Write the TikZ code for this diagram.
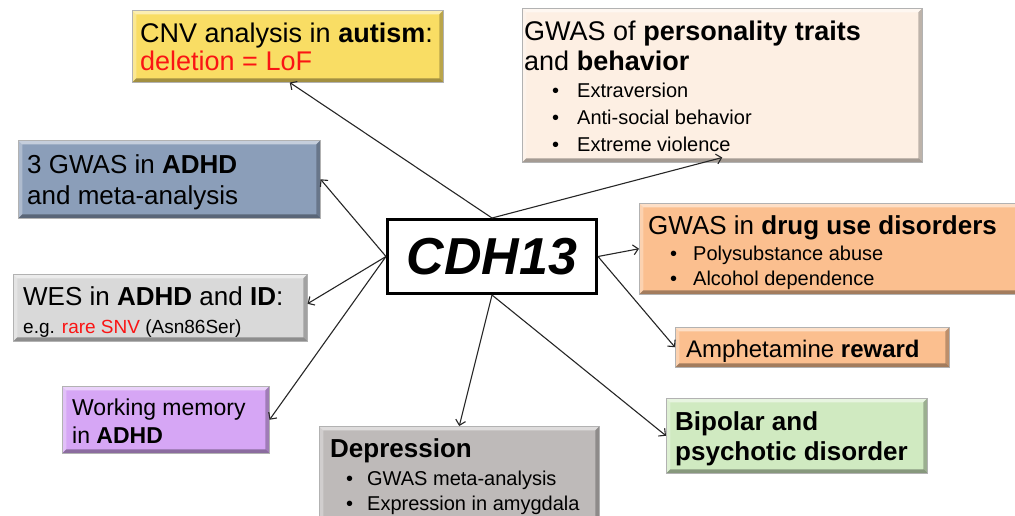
\documentclass[tikz,border=0pt]{standalone}
\usepackage{fontspec}
\setmainfont{Liberation Sans}
\usetikzlibrary{arrows.meta}
\definecolor{cnvY}{RGB}{249,221,100}
\definecolor{persP}{RGB}{253,239,227}
\definecolor{adhdB}{RGB}{139,158,185}
\definecolor{wesG}{RGB}{217,217,217}
\definecolor{wmP}{RGB}{214,166,245}
\definecolor{drugO}{RGB}{251,191,143}
\definecolor{bipG}{RGB}{208,234,193}
\definecolor{depG}{RGB}{190,186,185}
\definecolor{txtred}{RGB}{250,20,20}
\begin{document}
\begin{tikzpicture}[x=1pt,y=-1pt,
  bevel/.style={path picture={
    \fill[white,opacity=.5] (path picture bounding box.north west) -- (path picture bounding box.north east)
      -- ([shift={(-4pt,-4pt)}]path picture bounding box.north east) -- ([shift={(4pt,-4pt)}]path picture bounding box.north west) -- cycle;
    \fill[white,opacity=.3] (path picture bounding box.north west) -- ([shift={(4pt,-4pt)}]path picture bounding box.north west)
      -- ([shift={(4pt,4pt)}]path picture bounding box.south west) -- (path picture bounding box.south west) -- cycle;
    \fill[black,opacity=.25] (path picture bounding box.north east) -- (path picture bounding box.south east)
      -- ([shift={(-4pt,4pt)}]path picture bounding box.south east) -- ([shift={(-4pt,-4pt)}]path picture bounding box.north east) -- cycle;
    \fill[black,opacity=.35] (path picture bounding box.south west) -- ([shift={(4pt,4pt)}]path picture bounding box.south west)
      -- ([shift={(-4pt,4pt)}]path picture bounding box.south east) -- (path picture bounding box.south east) -- cycle;
  }},
  box/.style={draw=black!30,line width=0.5pt,inner sep=0pt,anchor=north west,bevel},
  txt/.style={anchor=base west,inner sep=0pt,font=\fontsize{26}{30}\selectfont},
  big/.style={font=\fontsize{27}{31}\selectfont},
  sm/.style={font=\fontsize{20}{24}\selectfont},
  arr/.style={-{Straight Barb[length=5pt,width=10pt]},line width=1.1pt,black!85},
]
\useasboundingbox (0,0) rectangle (1015,515);

% boxes
\node[box,fill=cnvY,minimum width=311pt,minimum height=72pt] (cnv) at (132,10) {};
\node[box,fill=persP,minimum width=400pt,minimum height=154pt] (pers) at (522,8) {};
\node[box,fill=adhdB,minimum width=302pt,minimum height=78pt] (adhd) at (18,140) {};
\node[box,fill=wesG,minimum width=294pt,minimum height=67pt] (wes) at (13,274) {};
\node[box,fill=wmP,minimum width=207pt,minimum height=67pt] (wm) at (62,386) {};
\node[box,fill=drugO,minimum width=386pt,minimum height=91pt] (drug) at (639,203) {};
\node[box,fill=drugO,minimum width=274pt,minimum height=40pt] (amph) at (675,327) {};
\node[box,fill=bipG,minimum width=261pt,minimum height=75pt] (bip) at (666,398) {};
\node[box,fill=depG,minimum width=280pt,minimum height=104pt] (dep) at (319,426) {};
\node[draw,line width=3pt,fill=white,minimum width=209pt,minimum height=74pt,inner sep=0pt,
      font=\fontsize{52}{60}\selectfont\bfseries\itshape] (cdh) at (492,256.5) {CDH13};

% texts
\node[txt,big] (cnv1) at (140,42) {CNV analysis in \textbf{autism}:};
\node[txt,big,text=txtred] (cnv2) at (140,70) {deletion = LoF};

\node[txt,big] (pers1) at (524,40) {GWAS of \textbf{personality traits}};
\node[txt,big] (pers2) at (524,70) {and \textbf{behavior}};
\node[txt,sm] (pers3) at (552,97) {\makebox[25pt][l]{\textbullet}Extraversion};
\node[txt,sm] (pers4) at (552,124) {\makebox[25pt][l]{\textbullet}Anti-social behavior};
\node[txt,sm] (pers5) at (552,151) {\makebox[25pt][l]{\textbullet}Extreme violence};

\node[txt] (adhd1) at (27,173) {3 GWAS in \textbf{ADHD}};
\node[txt] (adhd2) at (27,204) {and meta-analysis};

\node[txt] (wes1) at (23,305) {WES in \textbf{ADHD} and \textbf{ID}:};
\node[txt,font=\fontsize{19}{23}\selectfont] (wes2) at (23,333) {e.g. \textcolor{txtred}{rare SNV} (Asn86Ser)};

\node[txt,font=\fontsize{23}{27}\selectfont] (wm1) at (72,415) {Working memory};
\node[txt,font=\fontsize{23}{27}\selectfont] (wm2) at (72,443) {in \textbf{ADHD}};

\node[txt] (drug1) at (648,234) {GWAS in \textbf{drug use disorders}};
\node[txt,sm] (drug2) at (670,260) {\makebox[23pt][l]{\textbullet}Polysubstance abuse};
\node[txt,sm] (drug3) at (670,285) {\makebox[23pt][l]{\textbullet}Alcohol dependence};

\node[txt,font=\fontsize{24}{28}\selectfont] (amph1) at (686,357) {Amphetamine \textbf{reward}};

\node[txt,font=\fontsize{26}{30}\selectfont\bfseries] (bip1) at (675,430) {Bipolar and};
\node[txt,font=\fontsize{26}{30}\selectfont\bfseries] (bip2) at (675,460) {psychotic disorder};

\node[txt,font=\fontsize{26}{30}\selectfont\bfseries] (dep1) at (330,457) {Depression};
\node[txt,sm] (dep2) at (346,485) {\makebox[21pt][l]{\textbullet}GWAS meta-analysis};
\node[txt,sm] (dep3) at (346,510) {\makebox[21pt][l]{\textbullet}Expression in amygdala};

% arrows
\draw[arr] (cdh.north) -- ([xshift=2pt]cnv.south);
\draw[arr] (cdh.north) -- ([yshift=5pt]pers.south);
\draw[arr] (cdh.west) -- (adhd.east);
\draw[arr] (cdh.west) -- ([yshift=4pt]wes.east);
\draw[arr] (cdh.west) -- (wm.east);
\draw[arr] (cdh.east) -- (drug.west);
\draw[arr] (cdh.east) -- (amph.west);
\draw[arr] (cdh.south) -- (bip.west);
\draw[arr] (cdh.south) -- (dep.north);
\end{tikzpicture}
\end{document}
